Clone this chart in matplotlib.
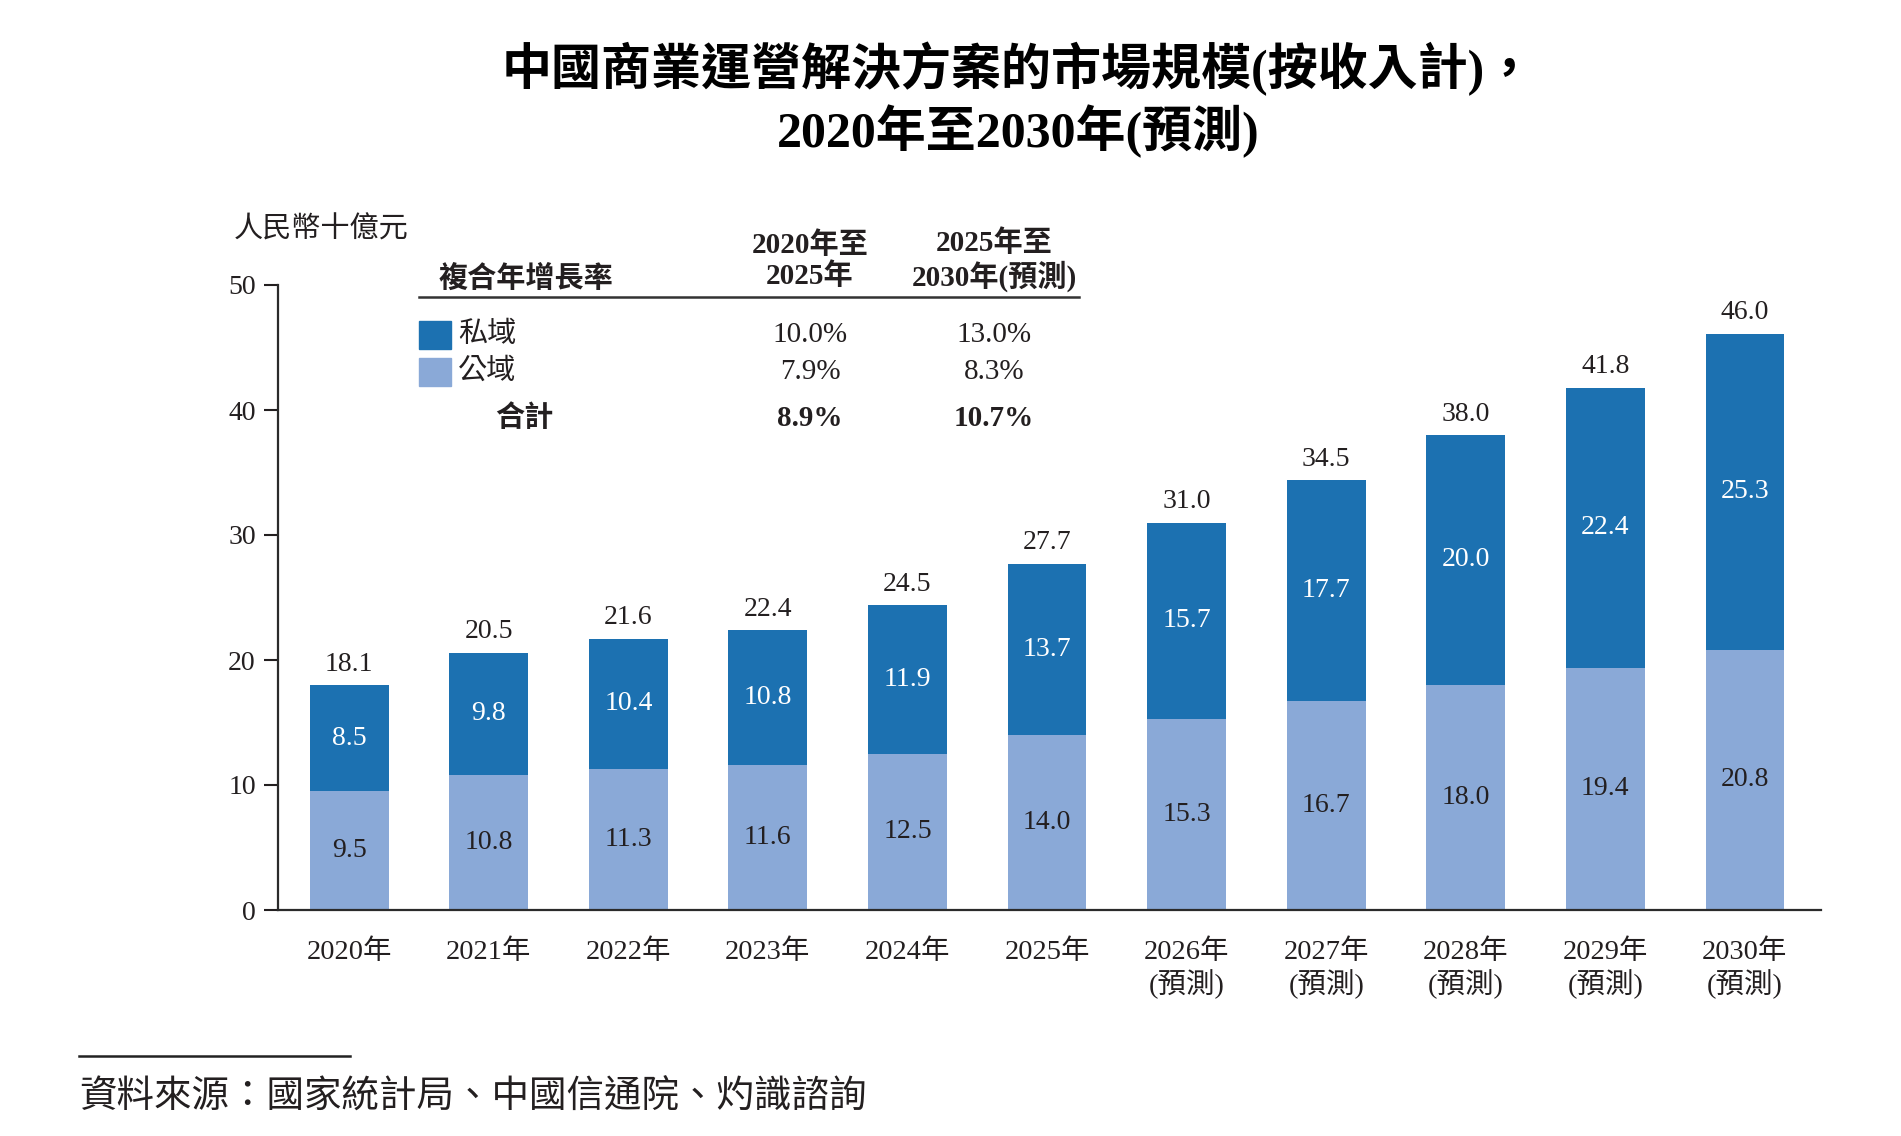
import matplotlib
matplotlib.use("Agg")
import matplotlib.pyplot as plt
import numpy as np

plt.rcParams['font.family'] = ['Liberation Serif', 'Noto Sans CJK TC', 'DejaVu Sans']

years = ["2020年", "2021年", "2022年", "2023年", "2024年", "2025年",
         "2026年\n(預測)", "2027年\n(預測)", "2028年\n(預測)", "2029年\n(預測)", "2030年\n(預測)"]
public_vals = [9.5, 10.8, 11.3, 11.6, 12.5, 14.0, 15.3, 16.7, 18.0, 19.4, 20.8]
private_vals = [8.5, 9.8, 10.4, 10.8, 11.9, 13.7, 15.7, 17.7, 20.0, 22.4, 25.3]
totals = [18.1, 20.5, 21.6, 22.4, 24.5, 27.7, 31.0, 34.5, 38.0, 41.8, 46.0]

series_names = ["私域", "公域", "合計"]
cagr_20_25 = ["10.0%", "7.9%", "8.9%"]
cagr_25_30 = ["13.0%", "8.3%", "10.7%"]

title_lines = ["中國商業運營解決方案的市場規模(按收入計)，", "2020年至2030年(預測)"]
unit_label = "人民幣十億元"
source = "資料來源：國家統計局、中國信通院、灼識諮詢"

DARK = "#1c71b1"
LIGHT = "#8aa9d7"
TXT = "#231f20"

W, H = 1901, 1136
fig = plt.figure(figsize=(W / 100, H / 100), dpi=100)

def fx(px):
    return px / W

def fy(py):
    return 1 - py / H

ax = fig.add_axes([fx(278), fy(910), fx(1821) - fx(278), fy(285) - fy(910)])
x = np.arange(len(years))
bw = 0.565
ax.bar(x, public_vals, width=bw, color=LIGHT, zorder=2)
ax.bar(x, private_vals, width=bw, bottom=public_vals, color=DARK, zorder=2)

NUM = 20
for i in range(len(years)):
    ax.text(x[i], public_vals[i] / 2, f"{public_vals[i]:.1f}", ha='center', va='center',
            fontsize=NUM, color=TXT)
    ax.text(x[i], public_vals[i] + private_vals[i] / 2, f"{private_vals[i]:.1f}", ha='center',
            va='center', fontsize=NUM, color='white')
    ax.annotate(f"{totals[i]:.1f}", (x[i], public_vals[i] + private_vals[i]),
                xytext=(0, 15), textcoords='offset points', ha='center', va='center',
                fontsize=NUM, color=TXT)

ax.set_xlim(-0.51, 10.545)
ax.set_ylim(0, 50)
ax.set_yticks([0, 10, 20, 30, 40, 50])
ax.set_xticks(x)
ax.set_xticklabels(years, fontsize=20.5, color=TXT, linespacing=1.2)
ax.tick_params(axis='x', length=0, pad=21)
ax.tick_params(axis='y', length=10, width=1.5, direction='out', pad=6, labelsize=NUM,
               colors=TXT)
for s in ['top', 'right']:
    ax.spines[s].set_visible(False)
for s in ['left', 'bottom']:
    ax.spines[s].set_linewidth(1.6)
    ax.spines[s].set_color('#2b2b2b')

# Title
fig.text(fx(1018), fy(69), title_lines[0], ha='center', va='center', fontsize=36,
         fontweight='bold', color='black')
fig.text(fx(1018), fy(131), title_lines[1], ha='center', va='center', fontsize=36,
         fontweight='bold', color='black')

# unit label
fig.text(fx(234), fy(230), unit_label, ha='left', va='center', fontsize=21, color=TXT,
         style='italic')

# CAGR table
TB = 21
fig.text(fx(439), fy(279), "複合年增長率", ha='left', va='center', fontsize=TB,
         fontweight='bold', color=TXT)
fig.text(fx(810), fy(261), "2020年至\n2025年", ha='center', va='center', fontsize=TB,
         fontweight='bold', color=TXT, linespacing=1.15)
fig.text(fx(994), fy(261), "2025年至\n2030年(預測)", ha='center', va='center', fontsize=TB,
         fontweight='bold', color=TXT, linespacing=1.15)
fig.add_artist(plt.Line2D([fx(419), fx(1079)], [fy(297), fy(297)], color='#333333',
                          linewidth=1.8))

row_y = [335, 372, 418]
row_colors = [DARK, LIGHT]
for k in range(2):
    fig.add_artist(plt.Rectangle((fx(419), fy(row_y[k] + 14)), fx(451) - fx(419),
                                 fy(row_y[k] - 14) - fy(row_y[k] + 14),
                                 color=row_colors[k], transform=fig.transFigure))
    fig.text(fx(458), fy(row_y[k]), series_names[k], ha='left', va='center', fontsize=TB,
             color=TXT)
    fig.text(fx(810), fy(row_y[k]), cagr_20_25[k], ha='center', va='center', fontsize=TB,
             color=TXT)
    fig.text(fx(994), fy(row_y[k]), cagr_25_30[k], ha='center', va='center', fontsize=TB,
             color=TXT)
fig.text(fx(524), fy(row_y[2]), series_names[2], ha='center', va='center', fontsize=TB,
         fontweight='bold', color=TXT)
fig.text(fx(810), fy(row_y[2]), cagr_20_25[2], ha='center', va='center', fontsize=TB,
         fontweight='bold', color=TXT)
fig.text(fx(994), fy(row_y[2]), cagr_25_30[2], ha='center', va='center', fontsize=TB,
         fontweight='bold', color=TXT)

# Source
fig.add_artist(plt.Line2D([fx(79), fx(350)], [fy(1056), fy(1056)], color='#222222',
                          linewidth=1.8))
fig.text(fx(79), fy(1098), source, ha='left', va='center', fontsize=27, color=TXT,
         style='italic')

fig.savefig("out.png", dpi=100, facecolor='white')
